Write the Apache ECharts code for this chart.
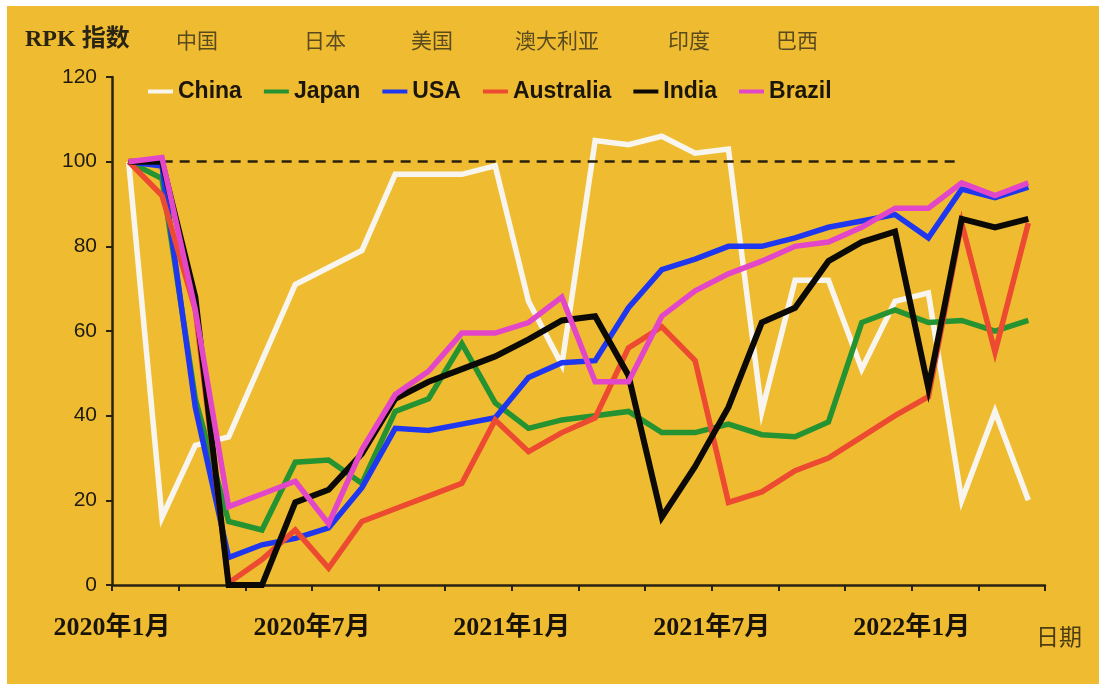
<!DOCTYPE html>
<html>
<head>
<meta charset="utf-8">
<script src="https://cdn.jsdelivr.net/npm/echarts@6/dist/echarts.min.js"></script>
<style>
html,body{margin:0;padding:0;background:#ffffff;}
#bg{position:absolute;left:7px;top:6px;width:1092px;height:678px;background:#efbc31;}
#chart{position:absolute;left:0;top:0;width:1099px;height:684px;}
</style>
</head>
<body>
<div id="bg"></div>
<div id="chart"></div>
<script>
// Months (categories)
const months = ['2020年1月','2020年2月','2020年3月','2020年4月','2020年5月','2020年6月','2020年7月','2020年8月','2020年9月','2020年10月','2020年11月','2020年12月',
  '2021年1月','2021年2月','2021年3月','2021年4月','2021年5月','2021年6月','2021年7月','2021年8月','2021年9月','2021年10月','2021年11月','2021年12月',
  '2022年1月','2022年2月','2022年3月','2022年4月'];
const labelMonths = ['2020年1月','2020年7月','2021年1月','2021年7月','2022年1月'];
const yTicks = [0, 20, 40, 60, 80, 100, 120];

// Series values (RPK index)
const china     = [100,16,33,35,53,71,75,79,97,97,97,99,67,52,105,104,106,102,103,41,72,72,51,67,69,20,41,20];
const japan     = [100,96,44,15,13,29,29.5,24,41,44,57,43,37,39,40,41,36,36,38,35.5,35,38.5,62,65,62,62.5,60,62.5];
const usa       = [100,99,42,6.5,9.5,11,13.5,23,37,36.5,38,39.5,49,52.5,53,65.5,74.5,77,80,80,82,84.5,86,87.5,82,93.5,91.5,94];
const australia = [100,92,65,0.5,6,13,4,15,18,21,24,39,31.5,36,39.5,56,61,53,19.5,22,27,30,35,40,44.5,85.5,55,85.5];
const india     = [100,100,68,0,0,19.5,22.5,31,44,48,51,54,58,62.5,63.5,49.5,16,28,42,62,65.5,76.5,81,83.5,46.5,86.5,84.5,86.5];
const brazil    = [100,101,65,18.5,21.5,24.5,14.5,32,45,50.5,59.5,59.5,62,68,48,48,63.5,69.5,73.5,76.5,80,81,84.5,89,89,95,92,95];
const baseline  = 100;
const baselineEnd = '2022年2月';

const names  = ['China','Japan','USA','Australia','India','Brazil'];
const cnNames = ['中国','日本','美国','澳大利亚','印度','巴西'];
const values = [china, japan, usa, australia, india, brazil];
const colors = ['#f7f5ee','#259332','#1f37ee','#ec4a31','#0b0a06','#e247c9'];

const chart = echarts.init(document.getElementById('chart'), null, {renderer:'canvas'});

const series = names.map((n, si) => ({
  name: n,
  type: 'line',
  data: values[si].map((v, i) => [i, v]),
  symbol: 'none',
  lineStyle: {width: si === 4 ? 6 : 5.5, color: colors[si], join: 'miter'},
  itemStyle: {color: colors[si]},
  animation: false,
  z: 2 + si
}));
series[0].markLine = {
  silent: true,
  symbol: 'none',
  label: {show: false},
  lineStyle: {type: [10, 7], color: '#2a200c', width: 2.5},
  data: [[{coord: [0, baseline]}, {coord: [months.indexOf(baselineEnd), baseline]}]]
};

const cnCenters = [197, 325, 432, 557, 689, 797];

const option = {
  backgroundColor: 'transparent',
  animation: false,
  grid: {left: 112, right: 54, top: 77, bottom: 99},
  legend: {
    left: 143, top: 75,
    icon: 'rect', itemWidth: 25, itemHeight: 4, itemGap: 22,
    textStyle: {fontFamily: 'Liberation Sans', fontWeight: 'bold', fontSize: 23, color: '#1b1609'},
    data: names
  },
  xAxis: {
    type: 'value', min: -0.5, max: 27.5, interval: 2,
    name: '日期', nameLocation: 'end',
    nameTextStyle: {fontFamily: 'Noto Sans CJK SC', fontSize: 23, color: '#4b3c12', verticalAlign: 'top', padding: [40, 0, 0, -24]},
    axisLine: {show: true, onZero: false, lineStyle: {color: '#2a2210', width: 2.5}},
    axisTick: {show: true, length: 6, lineStyle: {color: '#2a2210', width: 2}},
    splitLine: {show: false},
    axisLabel: {
      margin: 30, fontFamily: 'Liberation Serif, Noto Sans CJK SC', fontSize: 26, fontWeight: 'bold', color: '#1a1408',
      formatter: v => { const m = months[Math.round(v + 0.5)]; return labelMonths.includes(m) ? m : ''; }
    }
  },
  yAxis: {
    type: 'value', min: yTicks[0], max: yTicks[yTicks.length-1], interval: 20,
    axisLine: {show: true, onZero: false, lineStyle: {color: '#2a2210', width: 2.5}},
    axisTick: {show: true, length: 6, lineStyle: {color: '#2a2210', width: 2}},
    splitLine: {show: false},
    axisLabel: {margin: 15, fontFamily: 'Liberation Sans', fontSize: 21, color: '#1e1a0e'}
  },
  graphic: [
    {type: 'text', x: 25, y: 40, style: {text: 'RPK 指数', font: 'bold 24px "Liberation Serif", "Noto Sans CJK SC"', fill: '#2a2414', textVerticalAlign: 'middle'}}
  ].concat(cnNames.map((t, i) => ({
    type: 'text', x: cnCenters[i], y: 40,
    style: {text: t, font: '21px "Noto Sans CJK SC"', fill: '#5a4b1e', textAlign: 'center', textVerticalAlign: 'middle'}
  }))),
  series: series
};
chart.setOption(option);
</script>
</body>
</html>
